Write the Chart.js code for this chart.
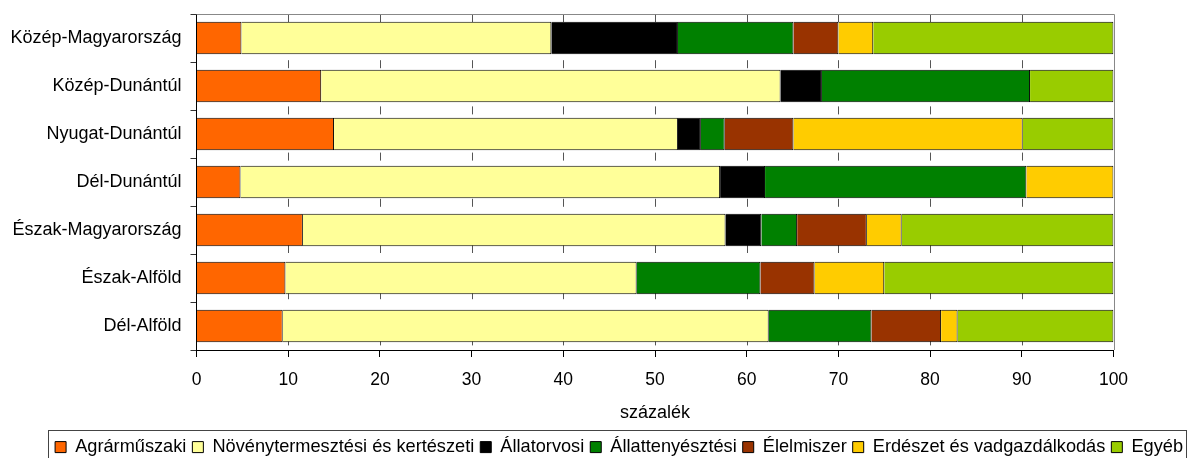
<!DOCTYPE html>
<html>
<head>
<meta charset="utf-8">
<script src="https://cdn.jsdelivr.net/npm/chart.js@4"></script>
<style>
  html, body { margin: 0; padding: 0; background: #fff; }
  #wrap { width: 1189px; height: 458px; }
</style>
</head>
<body>
<div id="wrap"><canvas id="c" width="1189" height="458"></canvas></div>
<script>
const regions = ['Közép-Magyarország', 'Közép-Dunántúl', 'Nyugat-Dunántúl', 'Dél-Dunántúl',
  'Észak-Magyarország', 'Észak-Alföld', 'Dél-Alföld'];

const agrarmuszaki = [4.9, 13.6, 15.0, 4.8, 11.6, 9.7, 9.4];
const novenytermesztesi = [33.8, 50.1, 37.5, 52.3, 46.1, 38.3, 53.0];
const allatorvosi = [13.8, 4.5, 2.5, 4.9, 3.9, 0, 0];
const allattenyesztesi = [12.6, 22.7, 2.6, 28.5, 3.9, 13.5, 11.2];
const elelmiszer = [4.9, 0, 7.5, 0, 7.6, 5.9, 7.6];
const erdeszet = [3.8, 0, 25.0, 9.5, 3.8, 7.6, 1.8];
const egyeb = [26.2, 9.1, 9.9, 0, 23.1, 25.0, 17.0];

const xTicks = [0, 10, 20, 30, 40, 50, 60, 70, 80, 90, 100];

const FONT = "'Liberation Sans', Arial, sans-serif";

function ds(label, data, color) {
  return {
    label: label,
    data: data,
    backgroundColor: color,
    borderColor: '#000',
    borderWidth: 1,
    categoryPercentage: 1,
    barPercentage: 0.68
  };
}

// dashed grid lines, grey frame top/right, legend box
const frame = {
  id: 'frame',
  beforeDatasetsDraw(chart) {
    const { ctx, chartArea: a, scales: { x } } = chart;
    ctx.save();
    ctx.strokeStyle = '#555';
    ctx.lineWidth = 1;
    ctx.setLineDash([8, 38.2]);
    for (const t of x.ticks) {
      if (t.value <= 0 || t.value >= 100) continue;
      const px = Math.round(x.getPixelForValue(t.value)) + 0.5;
      ctx.beginPath();
      ctx.moveTo(px, a.top);
      ctx.lineTo(px, a.bottom);
      ctx.stroke();
    }
    ctx.setLineDash([]);
    ctx.strokeStyle = '#888';
    ctx.beginPath();
    ctx.moveTo(a.left, Math.round(a.top) + 0.5);
    ctx.lineTo(Math.round(a.right) + 0.5, Math.round(a.top) + 0.5);
    ctx.lineTo(Math.round(a.right) + 0.5, a.bottom);
    ctx.stroke();
    ctx.restore();
  },
  afterDraw(chart) {
    const lg = chart.legend;
    if (!lg || !lg.legendHitBoxes.length) return;
    const ctx = chart.ctx;
    const left = Math.round(lg.legendHitBoxes[0].left - 7) + 0.5;
    ctx.save();
    ctx.strokeStyle = '#444';
    ctx.lineWidth = 1;
    ctx.strokeRect(left, 430.5, 1186.5 - left, 40);
    ctx.restore();
  }
};

new Chart(document.getElementById('c'), {
  type: 'bar',
  data: {
    labels: regions,
    datasets: [
      ds('Agrárműszaki', agrarmuszaki, '#FF6600'),
      ds('Növénytermesztési és kertészeti', novenytermesztesi, '#FFFF99'),
      ds('Állatorvosi', allatorvosi, '#000000'),
      ds('Állattenyésztési', allattenyesztesi, '#008000'),
      ds('Élelmiszer', elelmiszer, '#993300'),
      ds('Erdészet és vadgazdálkodás', erdeszet, '#FFCC00'),
      ds('Egyéb', egyeb, '#99CC00')
    ]
  },
  options: {
    indexAxis: 'y',
    responsive: false,
    animation: false,
    layout: { padding: { top: 14, left: 0, right: 0, bottom: 0 } },
    scales: {
      x: {
        stacked: true,
        min: 0,
        max: 100,
        afterBuildTicks(scale) { scale.ticks = xTicks.map(v => ({ value: v })); },
        afterFit(scale) { scale.height = 82; scale.paddingRight = 75.5; scale.paddingLeft = 0; },
        grid: { drawOnChartArea: false, drawTicks: true, tickLength: 7, tickColor: '#000' },
        border: { color: '#000', width: 1 },
        ticks: { color: '#000', padding: 13, font: { family: FONT, size: 17.5 } },
        title: {
          display: true,
          text: 'százalék',
          color: '#000',
          padding: { top: 0, bottom: 8.5 },
          font: { family: FONT, size: 18 }
        }
      },
      y: {
        stacked: true,
        afterFit(scale) { scale.width = 196.5; scale.paddingTop = 0; scale.paddingBottom = 0; },
        grid: { offset: true, drawOnChartArea: false, drawTicks: true, tickLength: 6, tickColor: '#333' },
        border: { color: '#000', width: 1 },
        ticks: { color: '#000', padding: 9, font: { family: FONT, size: 18 } }
      }
    },
    plugins: {
      legend: {
        position: 'bottom',
        align: 'end',
        maxHeight: 26,
        labels: {
          boxWidth: 11,
          boxHeight: 11,
          padding: 6,
          color: '#000',
          font: { family: FONT, size: 18.2 }
        }
      },
      tooltip: { enabled: false }
    }
  },
  plugins: [frame]
});
</script>
</body>
</html>
